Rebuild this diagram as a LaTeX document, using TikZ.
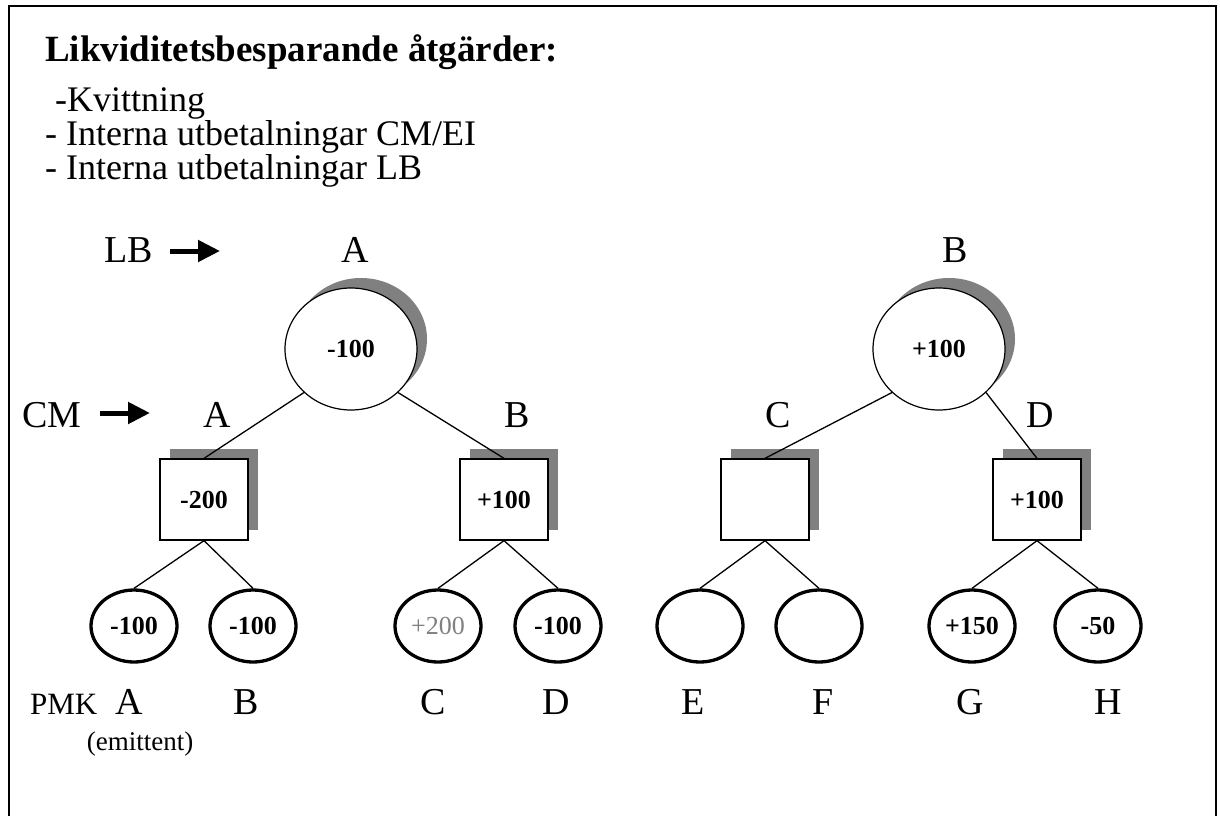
\documentclass[tikz,border=0pt]{standalone}
\usepackage{fontspec}
\setmainfont{Liberation Serif}
\usetikzlibrary{shapes.geometric,shadows,arrows.meta}
\definecolor{shadowgray}{HTML}{808080}
\definecolor{textgray}{HTML}{808080}
\begin{document}
\begin{tikzpicture}[x=1pt,y=-1pt,
  numfont/.style={font=\fontsize{26}{30}\selectfont\bfseries},
  shad/.style={general shadow={fill=shadowgray, shadow xshift=10pt, shadow yshift=10pt}},
  bigc/.style={ellipse, draw, line width=1.2pt, fill=white, minimum width=132pt, minimum height=122pt, inner sep=0pt, shad, numfont},
  sq/.style={rectangle, draw, line width=1.3pt, fill=white, minimum width=88pt, minimum height=81pt, inner sep=0pt, shad, numfont},
  leaf/.style={ellipse, draw, line width=3.3pt, fill=white, minimum width=86pt, minimum height=72pt, inner sep=0pt, numfont},
  lbl/.style={font=\fontsize{38}{42}\selectfont, anchor=base, inner sep=0pt},
  txt/.style={anchor=base west, inner sep=0pt, font=\fontsize{36}{40}\selectfont},
  conn/.style={line width=1.3pt},
  bigarrow/.style={line width=5pt, -{Triangle[length=22pt,width=21pt]}}
]
\useasboundingbox (0,0) rectangle (1220,816);
% frame
\draw[line width=2pt] (9,816) -- (9,6) -- (1216,6) -- (1216,816);

% header text
\node[txt, font=\fontsize{37}{42}\selectfont\bfseries] (title) at (45,62) {Likviditetsbesparande åtgärder:};
\node[txt] (t1) at (55,111) {-Kvittning};
\node[txt] (t2) at (45,145) {- Interna utbetalningar CM/EI};
\node[txt] (t3) at (45,179) {- Interna utbetalningar LB};

% row labels with arrows
\node[lbl, anchor=base west] (LB) at (104,262) {LB};
\coordinate (lbs) at (170,251);
\coordinate (lbe) at (220,251);
\draw[bigarrow] (lbs) -- (lbe);
\node[lbl, anchor=base west] (CM) at (22,427) {CM};
\coordinate (cms) at (100,413);
\coordinate (cme) at (150,413);
\draw[bigarrow] (cms) -- (cme);

% top labels
\node[lbl] (lA) at (355,262) {A};
\node[lbl] (lB) at (955,262) {B};
\node[lbl] (mA) at (217,427) {A};
\node[lbl] (mB) at (517,427) {B};
\node[lbl] (mC) at (778,427) {C};
\node[lbl] (mD) at (1040,427) {D};

% big circles
\node[bigc] (LA) at (351,349) {-100};
\node[bigc] (LBc) at (939,349) {+100};

% squares
\node[sq] (SA) at (204,499.5) {-200};
\node[sq] (SB) at (504,499.5) {+100};
\node[sq] (SC) at (765,499.5) {};
\node[sq] (SD) at (1037,499.5) {+100};

% leaves
\node[leaf] (PA) at (134,626) {-100};
\node[leaf] (PB) at (253,626) {-100};
\node[leaf, font=\fontsize{26}{30}\selectfont, text=textgray] (PC) at (438,626) {+200};
\node[leaf] (PD) at (558,626) {-100};
\node[leaf] (PE) at (700,626) {};
\node[leaf] (PF) at (819,626) {};
\node[leaf] (PG) at (972,626) {+150};
\node[leaf] (PH) at (1098,626) {-50};

% connectors
\draw[conn] (LA.south west) -- (SA.north);
\draw[conn] (LA.south east) -- (SB.north);
\draw[conn] (LBc.south west) -- (SC.north);
\draw[conn] (LBc.south east) -- (SD.north);
\draw[conn] (SA.south) -- (PA.north);
\draw[conn] (SA.south) -- (PB.north);
\draw[conn] (SB.south) -- (PC.north);
\draw[conn] (SB.south) -- (PD.north);
\draw[conn] (SC.south) -- (PE.north);
\draw[conn] (SC.south) -- (PF.north);
\draw[conn] (SD.south) -- (PG.north);
\draw[conn] (SD.south) -- (PH.north);

% bottom labels
\node[lbl, anchor=base west, font=\fontsize{31}{35}\selectfont] (PMK) at (30,714) {PMK};
\node[lbl] (bA) at (129,714) {A};
\node[lbl] (bB) at (246,714) {B};
\node[lbl] (bC) at (433,714) {C};
\node[lbl] (bD) at (556,714) {D};
\node[lbl] (bE) at (693,714) {E};
\node[lbl] (bF) at (823,714) {F};
\node[lbl] (bG) at (970,714) {G};
\node[lbl] (bH) at (1108,714) {H};
\node[lbl, font=\fontsize{27}{30}\selectfont] (emit) at (140,750) {(emittent)};
\end{tikzpicture}
\end{document}
